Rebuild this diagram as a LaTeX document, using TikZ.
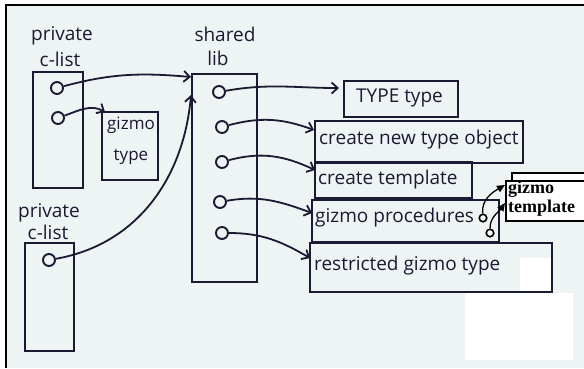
\documentclass[tikz,border=0pt]{standalone}
\usepackage{fontspec}
\setmainfont{Open Sans}
\newfontfamily\gtfont{Liberation Serif}
\usetikzlibrary{arrows.meta}
\definecolor{ink}{RGB}{26,26,50}
\definecolor{paper}{RGB}{238,243,243}
\begin{document}
\begin{tikzpicture}[x=1pt,y=-1pt,
  hand/.style={font=\fontsize{19}{22}\selectfont, text=ink, inner sep=0pt},
  small/.style={font=\fontsize{17}{20}\selectfont, text=ink, inner sep=0pt},
  boxx/.style={draw=ink, line width=2pt, inner sep=0pt, outer sep=0pt},
  port/.style={circle, draw=ink, line width=1.9pt, minimum size=12pt, inner sep=0pt},
  link/.style={draw=ink, line width=1.8pt, -{Straight Barb[length=6pt,width=11pt]}},
  tlink/.style={draw=black, line width=1.3pt, -{Triangle[length=8pt,width=7pt]}},
  sport/.style={circle, draw=black, line width=1.6pt, fill=white, minimum size=7.5pt, inner sep=0pt}]
\useasboundingbox (0,0) rectangle (584,368);
\clip (0,0) rectangle (584,368);
\fill[white] (0,0) rectangle (584,368);
\fill[paper] (6,5) rectangle (584,368);
\fill[white] (520,258) rectangle (551,291);
\fill[white] (465,293) rectangle (573,360);
\draw[black, line width=1.5pt] (6,368) -- (6,5) -- (584,5);

% left private c-list
\node[hand] (pv1) at (62,36) {private};
\node[hand] (cl1) at (60,59) {c-list};
\node[boxx, minimum width=50, minimum height=116] (pc1) at (58,130) {};
\node[port] (p11) at (57,88) {};
\node[port] (p12) at (58,118) {};
\node[boxx, minimum width=56, minimum height=68] (gty) at (130,146) {};
\node[small] (gtl1) at (131,125) {gizmo};
\node[small] (gtl2) at (131,157) {type};

% second private c-list
\node[hand] (pv2) at (49,213) {private};
\node[hand] (cl2) at (48,232) {c-list};
\node[boxx, minimum width=49, minimum height=108] (pc2) at (49.5,297) {};
\node[port] (p21) at (49,260) {};

% shared lib
\node[hand] (sh) at (225,34) {shared};
\node[hand] (lb) at (218,58) {lib};
\node[boxx, minimum width=65, minimum height=208] (sl) at (224.5,178) {};
\node[port] (s1) at (219,92) {};
\node[port] (s2) at (222,127) {};
\node[port] (s3) at (222,162) {};
\node[port] (s4) at (220,202) {};
\node[port] (s5) at (222,233) {};

% right boxes
\node[boxx, minimum width=114, minimum height=36] (tT) at (401,99) {};
\node[hand, anchor=west] (tTt) at (356,98) {TYPE type};
\node[boxx, minimum width=208, minimum height=42] (cn) at (419,142) {};
\node[hand, anchor=west] (cnt) at (319,140) {create new type object};
\node[boxx, minimum width=157, minimum height=36] (ct) at (393.5,180) {};
\node[hand, anchor=west] (ctt) at (318,180) {create template};
\node[boxx, minimum width=187, minimum height=42] (gp) at (405.5,221) {};
\node[hand, anchor=west] (gpt) at (315,218) {gizmo procedures};
\node[boxx, minimum width=242, minimum height=49] (rg) at (431,267.5) {};
\node[hand, anchor=west] (rgt) at (314,266) {restricted gizmo type};

% connectors
\draw[link] (p11) to[out=15,in=175] ([xshift=-1pt,yshift=-3pt]sl.north west);
\draw[link] (p12) to[out=20,in=150] ([xshift=3pt]gty.north west);
\draw[link] (p21) to[out=10,in=-95] ([xshift=-1pt,yshift=-21pt]sl.north west);
\draw[link] (s1) to[out=10,in=180] ([xshift=-5pt,yshift=-7pt]tT.north west);
\draw[link] (s2) to[out=15,in=160] ([xshift=-1pt,yshift=-9pt]cn.north west);
\draw[link] (s3) to[out=15,in=155] ([yshift=-8pt]ct.north west);
\draw[link] (s4) to[out=10,in=160] ([yshift=-13pt]gp.north west);
\draw[link] (s5) to[out=0,in=150] ([yshift=-15pt]rg.north west);

% gizmo template
\fill[white] (512,173) rectangle (590,180);
\draw[black, line width=1.5pt] (512,180) -- (512,173) -- (590,173);
\node[draw=black, line width=1.8pt, fill=white, anchor=north west, minimum width=90, minimum height=40, inner sep=0pt] (gtb) at (505,180) {};
\node[anchor=north west, font=\gtfont\bfseries\fontsize{18}{19}\selectfont, align=left, inner sep=0pt] (gtt) at (508,181) {gizmo\\template};
\node[sport] (g1) at (483,218) {};
\node[sport] (g2) at (490,233) {};
\draw[tlink] (g1) to[out=95,in=210] ([yshift=-5pt]gtb.north west);
\draw[tlink] (g2) to[out=90,in=235] ([yshift=-23pt]gtb.north west);
\end{tikzpicture}
\end{document}
